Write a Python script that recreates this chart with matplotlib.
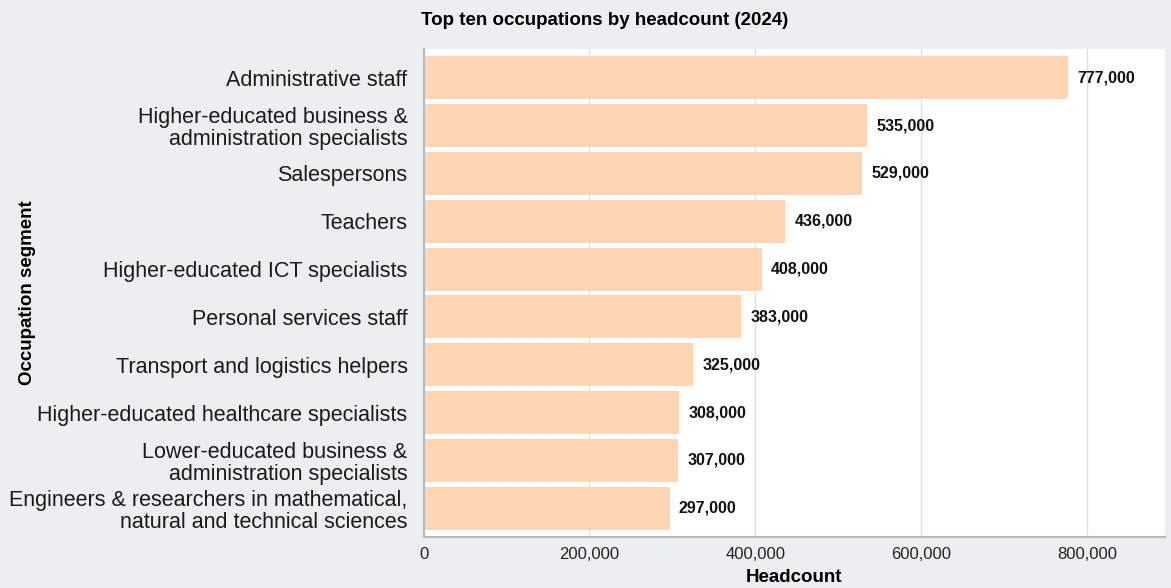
import matplotlib.pyplot as plt
import matplotlib.ticker as ticker

plt.rcParams['font.family'] = ['Liberation Sans', 'DejaVu Sans']

occupations = [
    "Administrative staff",
    "Higher-educated business &\nadministration specialists",
    "Salespersons",
    "Teachers",
    "Higher-educated ICT specialists",
    "Personal services staff",
    "Transport and logistics helpers",
    "Higher-educated healthcare specialists",
    "Lower-educated business &\nadministration specialists",
    "Engineers & researchers in mathematical,\nnatural and technical sciences",
]
headcount = [777000, 535000, 529000, 436000, 408000, 383000, 325000, 308000, 307000, 297000]

bg = "#edeef0"
bar_color = "#ffd2ad"

fig, ax = plt.subplots(figsize=(11.71, 5.88), dpi=100)
fig.patch.set_facecolor(bg)
ax.set_facecolor("white")
fig.subplots_adjust(left=423.5 / 1171, right=1165 / 1171, top=1 - 49 / 588, bottom=1 - 537 / 588)

pos = list(range(len(occupations)))
ax.barh(pos, headcount, height=0.9, color=bar_color, alpha=0.92, zorder=2)

# value labels just right of each bar
for p, v in zip(pos, headcount):
    ax.annotate(f"{v:,}", xy=(v, p), xytext=(6.5, 0), textcoords="offset points",
                ha="left", va="center", fontsize=11.5, fontweight="bold", color="#111111")

ax.set_ylim(9.6, -0.6)
ax.set_xlim(0, max(headcount) * 1.15)

ax.set_yticks(pos)
ax.set_yticklabels(occupations, fontsize=15.5, color="#1a1a1a", linespacing=1.08)
ax.tick_params(axis="y", length=0, pad=11.5)
ax.tick_params(axis="x", length=0, pad=7, labelsize=12, labelcolor="#222222")

ax.xaxis.set_major_locator(ticker.MultipleLocator(200000))
ax.xaxis.set_major_formatter(ticker.FuncFormatter(lambda x, _: f"{int(x):,}"))
ax.grid(axis="x", color="#e0e0e0", linewidth=1.0, zorder=1)
ax.set_axisbelow(True)

for side in ["top", "right"]:
    ax.spines[side].set_visible(False)
for side in ["left", "bottom"]:
    ax.spines[side].set_color("#b4b8c0")
    ax.spines[side].set_linewidth(1.5)

ax.set_title("Top ten occupations by headcount (2024)", loc="left", fontsize=13.5,
             fontweight="bold", pad=17, x=-0.003)
ax.set_xlabel("Headcount", fontsize=13.5, fontweight="bold", labelpad=5)
ax.set_ylabel("Occupation segment", fontsize=13.5, fontweight="bold")
ax.yaxis.set_label_coords((36 - 423.5) / 741.5, 0.5)

fig.savefig("out.png", dpi=100, facecolor=bg)
